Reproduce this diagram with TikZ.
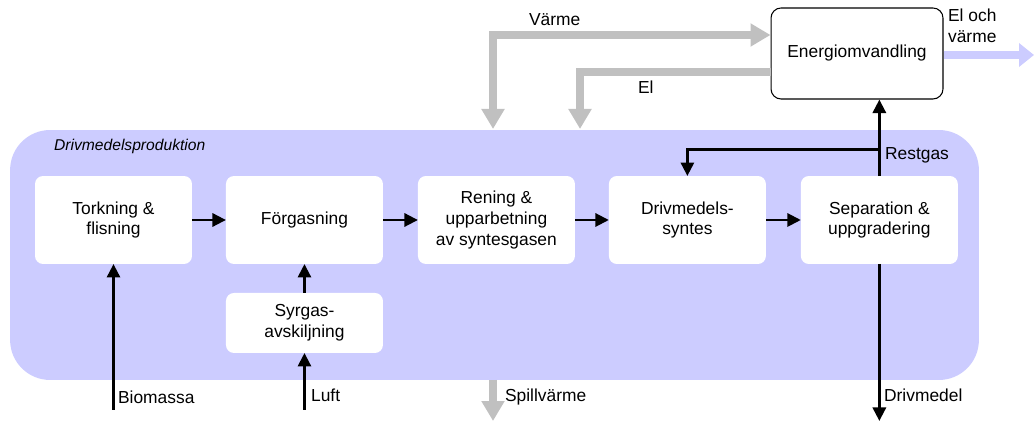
\documentclass[tikz,border=0pt]{standalone}
\usepackage{fontspec}
\setmainfont{Liberation Sans}
\usetikzlibrary{arrows.meta, positioning, calc}
\definecolor{ProdBlue}{HTML}{CCCCFF}
\definecolor{FlowGray}{HTML}{C0C0C0}

\begin{document}
\begin{tikzpicture}[
    x=0.02cm, y=-0.02cm,
    proc/.style={
        fill=white, rounded corners=0.16cm, minimum width=3.14cm,
        minimum height=1.76cm, align=center, outer sep=0pt, inner sep=2pt
    },
    arr/.style={-{Triangle[length=0.27cm, width=0.26cm]}, line width=1.7pt},
    grayarr/.style={-{Triangle[length=0.4cm, width=0.44cm]}, line width=4pt, FlowGray},
    grayboth/.style={{Triangle[length=0.4cm, width=0.44cm]}-{Triangle[length=0.4cm, width=0.44cm]}, line width=4pt, FlowGray},
    lbl/.style={inner sep=1pt, anchor=west},
    every node/.style={font=\fontsize{9.9}{11.9}\selectfont}
]
\useasboundingbox (0,0) rectangle (1034,421);

% =============================================
% PRODUCTION AREA
% =============================================
\node[fill=ProdBlue, rounded corners=0.8cm, minimum width=19.38cm,
    minimum height=5cm, outer sep=0pt] (prod) at (494.5,255) {};
\node[lbl, font=\fontsize{8.9}{10.6}\selectfont\itshape] (prodlbl) at (52,146) {Drivmedelsproduktion};

% main row
\node[proc] (torkning) at (113.5,220) {Torkning \&\\flisning};
\node[proc, right=0.68cm of torkning] (forgasning) {F\"orgasning};
\node[proc, right=0.7cm of forgasning] (rening) {Rening \&\\upparbetning\\av syntesgasen};
\node[proc, right=0.68cm of rening] (drivsyn) {Drivmedels-\\syntes};
\node[proc, right=0.7cm of drivsyn] (separation) {Separation \&\\uppgradering};

% oxygen
\node[proc, minimum height=1.2cm, below=0.58cm of forgasning] (syrgas) {Syrgas-\\avskiljning};

\draw[arr] (torkning) -- (forgasning);
\draw[arr] (forgasning) -- (rening);
\draw[arr] (rening) -- (drivsyn);
\draw[arr] (drivsyn) -- (separation);
\draw[arr] (syrgas) -- (forgasning);

% =============================================
% INPUTS AND OUTPUTS
% =============================================
\coordinate (biostart) at (torkning.south |- {(0,410)});
\coordinate (luftstart) at (syrgas.south |- {(0,410)});
\coordinate (drivend) at (separation.south |- {(0,421)});
\draw[arr] (biostart) -- (torkning.south);
\draw[arr] (luftstart) -- (syrgas.south);
\draw[arr] (separation.south) -- (drivend);
\node[lbl] (biolbl) at (116,397) {Biomassa};
\node[lbl] (luftlbl) at (309,395) {Luft};
\node[lbl] (drivlbl) at (882,395) {Drivmedel};

% =============================================
% ENERGY CONVERSION
% =============================================
\node[draw, line width=0.6pt, fill=white, rounded corners=0.2cm,
    minimum width=3.44cm, minimum height=1.82cm] (energi) at (857,53.5) {Energiomvandling};

% rest gas up, branch back to synthesis
\coordinate (restsplit) at (separation.north |- {(0,150)});
\draw[arr] (separation.north) -- (separation.north |- energi.south);
\draw[arr] (restsplit) -| (drivsyn.north);
\node[lbl] (restlbl) at (883,155) {Restgas};

% heat and power back to production
\coordinate (varmein) at (493,129);
\coordinate (elin) at (580,129);
\draw[grayboth] (varmein) |- ([yshift=0.37cm]energi.west);
\draw[grayarr] ([yshift=-0.37cm]energi.west) -| (elin);
\node[lbl] (varmelbl) at (527,20) {V\"arme};
\node[lbl] (ellbl) at (636,87) {El};

\coordinate (spillend) at (493,421);
\draw[grayarr] (prod.south -| spillend) -- (spillend);
\node[lbl] (spilllbl) at (503,397) {Spillv\"arme};

% output
\coordinate (utend) at (1034,55);
\draw[-{Triangle[length=0.3cm, width=0.46cm]}, line width=5pt, ProdBlue] (energi.east |- utend) -- (utend);
\node[lbl, align=left] (utlbl) at (946,26) {El och\\v\"arme};

\end{tikzpicture}
\end{document}
